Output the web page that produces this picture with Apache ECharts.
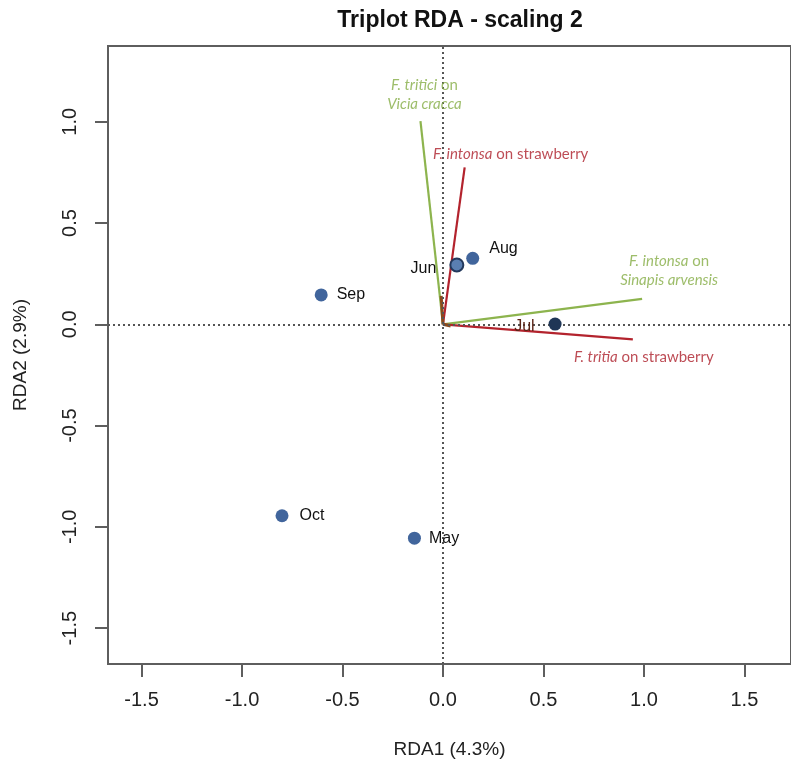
<!DOCTYPE html>
<html lang="en">
<head>
    <meta charset="UTF-8">
    <title>Triplot RDA - scaling 2</title>
    <script src="https://cdn.jsdelivr.net/npm/echarts@6.0.0/dist/echarts.min.js"></script>
    <style>
        body {
            padding: 0;
            margin: 0;
            border: none;
            background: #fff;
        }
        #ec {
            width: 791px;
            height: 767px;
        }
    </style>
</head>
<body>
<div id="ec"></div>
<script>
    // site scores (months)
    const siteNames = ['Sep', 'Oct', 'May', 'Jun', 'Aug', 'Jul'];
    const siteRDA1 = [-0.606, -0.801, -0.142, 0.069, 0.148, 0.558];
    const siteRDA2 = [0.145, -0.945, -1.056, 0.293, 0.326, 0.001];

    // explanatory arrows
    const envNames = [
        '{i|F. tritici} on\n{i|Vicia cracca}',
        '{i|F. intonsa} on strawberry',
        '{i|F. intonsa} on\n{i|Sinapis arvensis}',
        '{i|F. tritia} on strawberry'
    ];
    const envRDA1 = [-0.112, 0.108, 0.991, 0.945];
    const envRDA2 = [1.003, 0.775, 0.126, -0.074];

    // small brown arrows near origin
    const smallRDA1 = [-0.009, 0.038];
    const smallRDA2 = [0.14, -0.008];

    const xTicks = [-1.5, -1.0, -0.5, 0.0, 0.5, 1.0, 1.5];
    const yTicks = [-1.5, -1.0, -0.5, 0.0, 0.5, 1.0];

    const GREEN = '#8db44e';
    const RED = '#b3232d';
    const envColors = [GREEN, RED, GREEN, RED];
    const envTextColors = ['#84ad45', '#ad1f2a', '#84ad45', '#ad1f2a'];
    const envOffsets = [[4, -26], [46, -13], [27, -28], [11, 18]];

    const sitePos = ['right', 'right', 'right', 'left', 'right', 'left'];
    const siteDist = [9, 11, 8, 13, 10, 14];
    const siteOff = [[0, 0], [0, 0], [0, 0], [0, 4], [0, -10], [0, 2]];

    let ec = echarts.init(document.getElementById('ec'));

    let series = [];

    // dotted zero lines
    series.push({
        type: 'line',
        data: [],
        silent: true,
        markLine: {
            symbol: 'none',
            silent: true,
            label: {show: false},
            lineStyle: {type: [2, 3], color: '#555', width: 2},
            data: [{xAxis: 0}, {yAxis: 0}]
        }
    });

    envRDA1.forEach((x, i) => {
        series.push({
            type: 'line',
            data: [[0, 0], [x, envRDA2[i]]],
            showSymbol: false,
            symbol: 'none',
            lineStyle: {color: envColors[i], width: 2.2},
            z: 3
        });
    });

    smallRDA1.forEach((x, i) => {
        series.push({
            type: 'line',
            data: [[0, 0], [x, smallRDA2[i]]],
            symbol: 'none',
            lineStyle: {color: '#8b4a1c', width: 3},
            z: 4
        });
    });

    // arrow labels
    series.push({
        type: 'scatter',
        symbolSize: 0,
        z: 5,
        data: envRDA1.map((x, i) => ({
            value: [x, envRDA2[i]],
            label: {
                show: true,
                position: 'inside',
                offset: envOffsets[i],
                formatter: envNames[i],
                color: envTextColors[i],
                fontFamily: 'Lato',
                fontSize: 15,
                lineHeight: 19,
                align: 'center',
                textBorderWidth: 0,
                rich: {
                    i: {
                        fontStyle: 'italic',
                        fontFamily: 'Lato',
                        fontSize: 15,
                        color: envTextColors[i]
                    }
                }
            }
        }))
    });

    // sites
    series.push({
        type: 'scatter',
        symbolSize: 13,
        z: 6,
        data: siteRDA1.map((x, i) => {
            let d = {
                value: [x, siteRDA2[i]],
                itemStyle: {color: '#41659c', opacity: 1},
                label: {
                    show: true,
                    position: sitePos[i],
                    distance: siteDist[i],
                    offset: siteOff[i],
                    formatter: siteNames[i],
                    color: '#111',
                    textBorderWidth: 0,
                    fontFamily: 'Liberation Sans',
                    fontSize: 16
                }
            };
            if (siteNames[i] === 'Jun') {
                d.itemStyle = {color: '#5a7fb2', borderColor: '#23395c', borderWidth: 2, opacity: 1};
            }
            if (siteNames[i] === 'Jul') {
                d.itemStyle = {color: '#1f3656', opacity: 1};
                d.label.color = '#5a2416';
            }
            return d;
        })
    });

    let option = {
        animation: false,
        backgroundColor: '#fff',
        title: {
            text: 'Triplot RDA - scaling 2',
            left: 455,
            top: 4,
            textAlign: 'center',
            textStyle: {
                fontFamily: 'Liberation Sans',
                fontWeight: 'bold',
                fontSize: 23,
                color: '#111'
            }
        },
        grid: {
            left: 108,
            top: 46,
            right: -5,
            bottom: 103,
            show: true,
            borderColor: '#5e5e5e',
            borderWidth: 2,
            backgroundColor: 'transparent'
        },
        xAxis: {
            type: 'value',
            min: -1.667,
            max: 1.732,
            name: 'RDA1 (4.3%)',
            nameLocation: 'middle',
            nameGap: 76,
            nameTextStyle: {fontFamily: 'Liberation Sans', fontSize: 19, color: '#222'},
            axisLine: {show: false, onZero: false},
            splitLine: {show: false},
            axisTick: {
                show: true,
                length: 13,
                customValues: xTicks,
                lineStyle: {color: '#5e5e5e', width: 2}
            },
            axisLabel: {
                customValues: xTicks,
                margin: 26,
                fontFamily: 'Liberation Sans',
                fontSize: 20,
                color: '#222',
                formatter: v => v.toFixed(1)
            }
        },
        yAxis: {
            type: 'value',
            min: -1.677,
            max: 1.374,
            name: 'RDA2 (2.9%)',
            nameLocation: 'middle',
            nameGap: 78,
            nameRotate: 90,
            nameTextStyle: {fontFamily: 'Liberation Sans', fontSize: 19, color: '#222'},
            axisLine: {show: false, onZero: false},
            splitLine: {show: false},
            axisTick: {
                show: true,
                length: 13,
                customValues: yTicks,
                lineStyle: {color: '#5e5e5e', width: 2}
            },
            axisLabel: {
                customValues: yTicks,
                rotate: 90,
                margin: 28,
                fontFamily: 'Liberation Sans',
                fontSize: 20,
                color: '#222',
                formatter: v => v.toFixed(1)
            }
        },
        series: series
    };

    ec.setOption(option);
</script>
</body>
</html>
